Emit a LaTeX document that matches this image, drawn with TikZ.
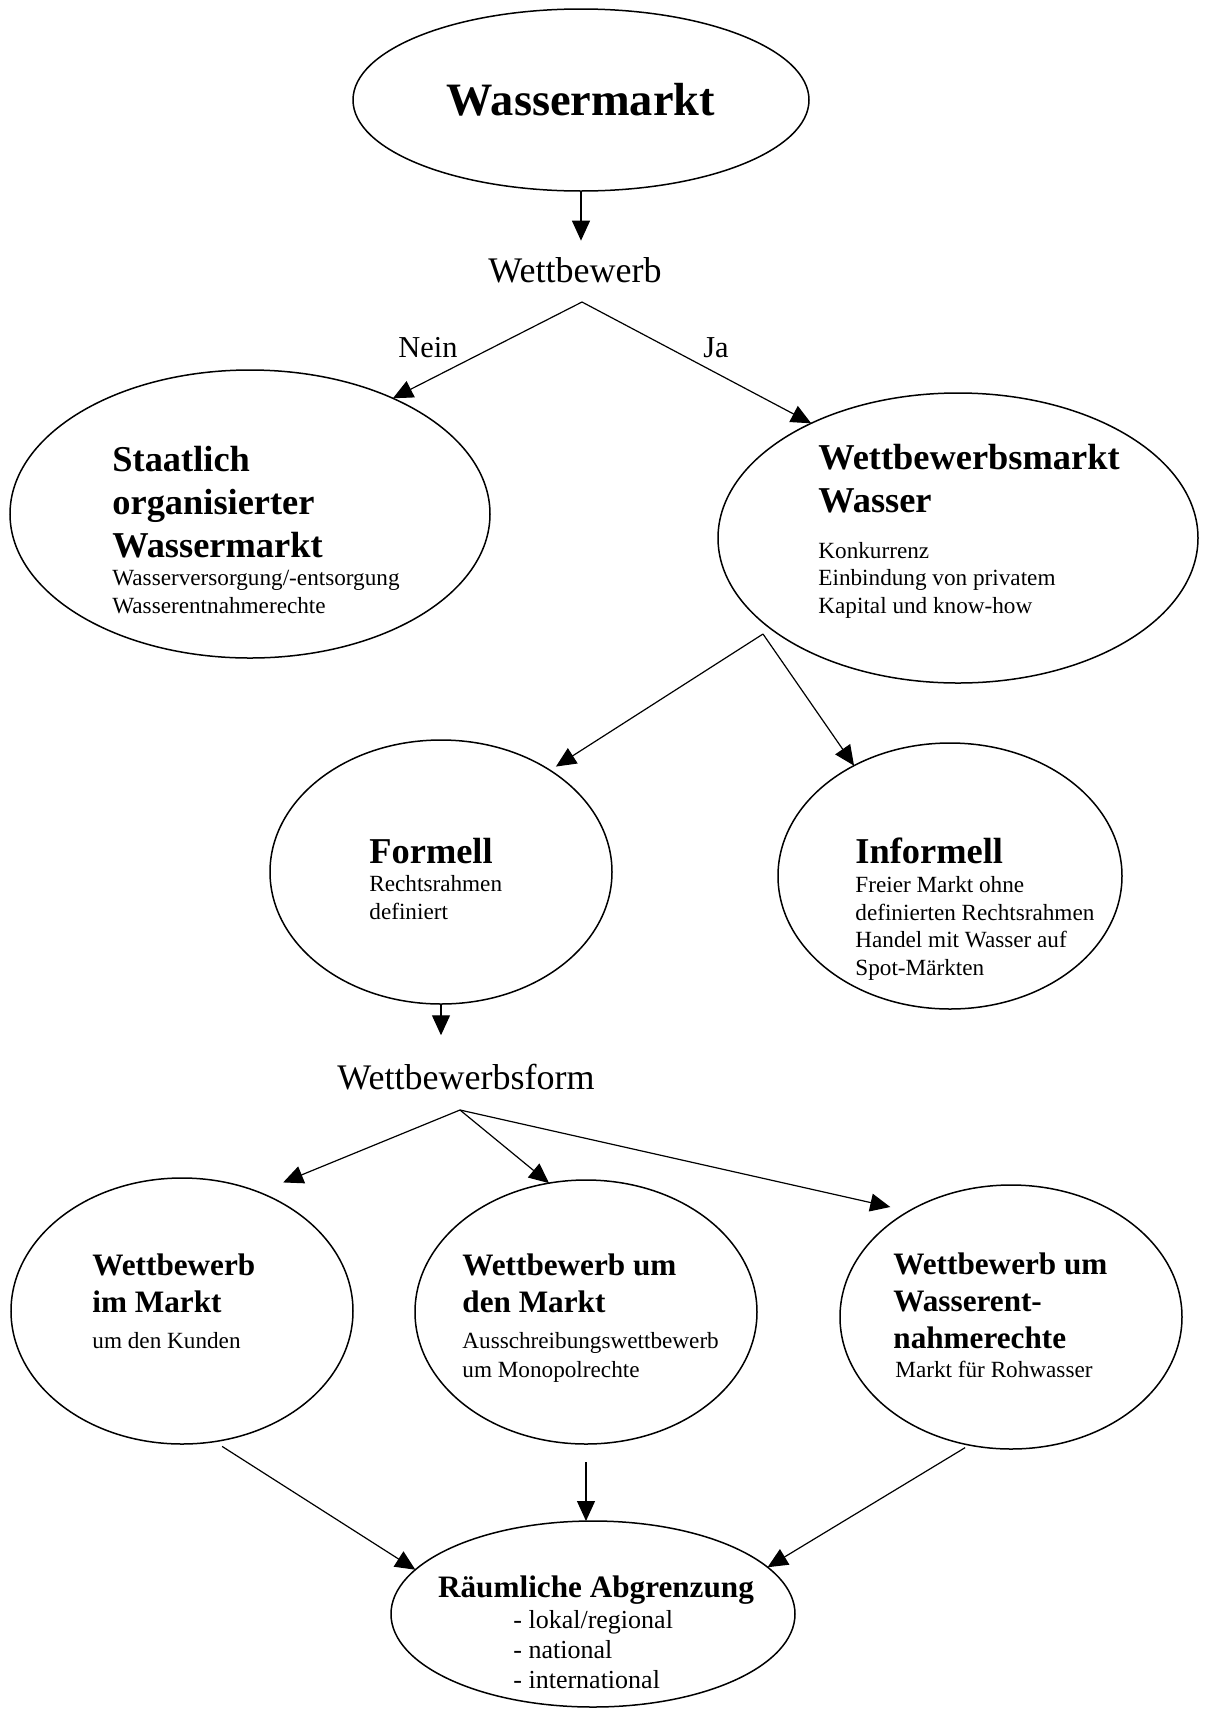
\documentclass[tikz,border=0pt]{standalone}
\usepackage{fontspec}
\setmainfont{Liberation Serif}
\usepackage{tikz}
\usetikzlibrary{shapes.geometric,arrows.meta}
\tikzset{x=0.5pt,y=-0.5pt, every edge/.style={draw,
		-{Triangle[length=10pt,width=9pt]},line width=0.6pt}}
\tikzstyle{oval}=[ellipse,draw=black,line width=0.75pt,inner sep=0pt,outer sep=0pt]
\tikzstyle{decision}=[inner sep=8pt,font=\fontsize{18}{21.6}\selectfont]
\tikzstyle{answer}=[inner sep=0pt,font=\fontsize{15.2}{18}\selectfont]
\tikzstyle{headline}=[inner sep=0pt,align=left,font=\bfseries\fontsize{18.2}{21.5}\selectfont]
\tikzstyle{subline}=[inner sep=0pt,align=left,font=\fontsize{11.6}{13.7}\selectfont]
\tikzstyle{rowhead}=[inner sep=0pt,align=left,font=\bfseries\fontsize{15.6}{18.4}\selectfont]
\tikzstyle{rowsub}=[inner sep=0pt,align=left,font=\fontsize{11.6}{14.5}\selectfont]
\tikzstyle{listline}=[inner sep=0pt,align=left,font=\fontsize{13}{15}\selectfont]

\begin{document}
\begin{tikzpicture}
	\useasboundingbox (0,0) rectangle (1208,1709);
	\node at (581,100) [oval,minimum width=228pt,minimum height=91pt,font=\bfseries\fontsize{23.2}{27}\selectfont] (top) {Wassermarkt};
	\node at (250,514) [oval,minimum width=240pt,minimum height=144pt] (staat) {};
	\node at (958,538) [oval,minimum width=240pt,minimum height=145pt] (wbm) {};
	\node at (441,872) [oval,minimum width=171pt,minimum height=132pt] (formell) {};
	\node at (950,876) [oval,minimum width=172pt,minimum height=133pt] (informell) {};
	\node at (182,1311) [oval,minimum width=171pt,minimum height=133pt] (immarkt) {};
	\node at (586,1312) [oval,minimum width=171pt,minimum height=132pt] (ummarkt) {};
	\node at (1011,1317) [oval,minimum width=171pt,minimum height=132pt] (entnahme) {};
	\node at (593,1614) [oval,minimum width=202pt,minimum height=93pt] (raum) {};
	
	\node at (575,282) [decision,anchor=base] (wb) {Wettbewerb};
	\node at (428,357) [answer,anchor=base] (nein) {Nein};
	\node at (716,357) [answer,anchor=base] (ja) {Ja};
	\node at (466,1089) [decision,anchor=base] (wbf) {Wettbewerbsform};
	
	% multi-line nodes sit on the baseline of their last line
	\node at (112,557) [headline,anchor=base west] (staathead) {Staatlich\\organisierter\\Wassermarkt};
	\node at (112,613) [subline,anchor=base west] (staattext) {Wasserversorgung/-entsorgung\\Wasserentnahmerechte};
	\node at (818,512) [headline,anchor=base west] (wbmhead) {Wettbewerbsmarkt\\Wasser};
	\node at (818,613) [subline,anchor=base west] (wbmtext) {Konkurrenz\\Einbindung von privatem\\Kapital und know-how};
	\node at (369,863) [headline,anchor=base west] (formhead) {Formell};
	\node at (369,919) [subline,anchor=base west] (formtext) {Rechtsrahmen\\definiert};
	\node at (855,863) [headline,anchor=base west] (infohead) {Informell};
	\node at (855,975) [subline,anchor=base west] (infotext) {Freier Markt ohne\\definierten Rechtsrahmen\\Handel mit Wasser auf\\Spot-Märkten};
	\node at (92,1312) [rowhead,anchor=base west] (imhead) {Wettbewerb\\im Markt};
	\node at (92,1348) [rowsub,anchor=base west] (imtext) {um den Kunden};
	\node at (462,1312) [rowhead,anchor=base west] (umhead) {Wettbewerb um\\den Markt};
	\node at (462,1377) [rowsub,anchor=base west] (umtext) {Ausschreibungswettbewerb\\um Monopolrechte};
	\node at (893,1348) [rowhead,anchor=base west] (enthead) {Wettbewerb um\\Wasserent-\\nahmerechte};
	\node at (895,1377) [rowsub,anchor=base west] (enttext) {Markt für Rohwasser};
	\node at (596,1597) [rowhead,anchor=base] (raumhead) {Räumliche Abgrenzung};
	\node at (513,1688) [listline,anchor=base west] (raumtext) {- lokal/regional\\- national\\- international};
	
	\coordinate (wbsplit) at (582,302);
	\coordinate (wbmsplit) at (763,634);
	\coordinate (wbfsplit) at (460,1110);
	
	\draw (top.south) edge (top.south |- wb.north);
	\draw (wbsplit) edge (staat.39) edge (wbm.142);
	\draw (wbmsplit) edge[shorten >=3.5pt] (formell.43) edge (informell.131);
	\draw (formell.south) edge[shorten >=6pt] (formell.south |- wbf.north);
	\draw (wbfsplit) edge[shorten >=13pt] (immarkt.57) edge (ummarkt.106) edge[shorten >=9.5pt] (entnahme.134);
	\draw (immarkt.-76) edge[shorten <=4.5pt] (raum.166);
	\draw (ummarkt.south) edge[shorten <=9pt] (ummarkt.south |- raum.north);
	\draw (entnahme.252) edge[shorten <=2.5pt] (raum.15);
\end{tikzpicture}
\end{document}
